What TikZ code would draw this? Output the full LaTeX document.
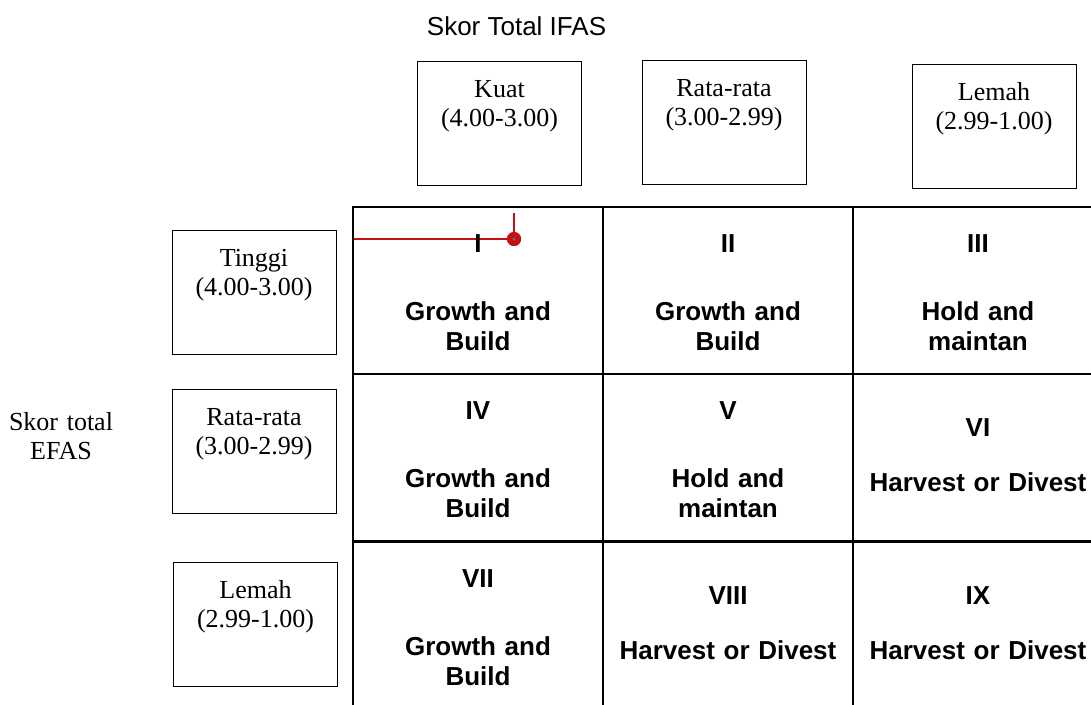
\documentclass[tikz,border=0pt]{standalone}
\usepackage{fontspec}
\setmainfont{Liberation Serif}
\setsansfont{Liberation Sans}
\definecolor{pinred}{RGB}{196,16,16}
\definecolor{pindot}{RGB}{90,110,160}

\begin{document}
\begin{tikzpicture}[x=0.75pt,y=-0.75pt,
  catbox/.style={draw,line width=0.75pt,inner sep=0pt,text width=123pt,align=center,
    font=\fontsize{19.5}{22}\selectfont,text height=27pt,text depth=66pt},
  cell/.style={draw,line width=1.5pt,inner sep=0pt,text width=187.5pt,align=center,
    font=\sffamily\bfseries\fontsize{19.5}{22.5}\selectfont,text height=33.75pt,text depth=91.5pt},
  cellone/.style={cell,text height=46.5pt,text depth=78.75pt},
  redline/.style={draw=pinred,line width=1.2pt}]
  \clip (0,0) rectangle (1091,704);
  \node[font=\sffamily\fontsize{19.5}{22}\selectfont,anchor=base] (ifas) at (516.5,35) {Skor Total IFAS};
  \node[font=\fontsize{19.5}{22}\selectfont,text width=90pt,align=center,anchor=base,inner sep=0pt] (efas) at (61,430) {Skor total\\EFAS};

  % IFAS
  \node[catbox] (kuat) at (499.5,123) {Kuat\\(4.00-3.00)};
  \node[catbox] (ratai) at (724,122) {Rata-rata\\(3.00-2.99)};
  \node[catbox] (lemahi) at (994,126) {Lemah\\(2.99-1.00)};
  % EFAS
  \node[catbox] (tinggi) at (254,292) {Tinggi\\(4.00-3.00)};
  \node[catbox] (ratae) at (254,451) {Rata-rata\\(3.00-2.99)};
  \node[catbox] (lemahe) at (255.5,624) {Lemah\\(2.99-1.00)};

  % marker
  \coordinate (mstart) at (353,239);
  \coordinate (mtop) at (514,213);
  \node[circle,fill=pinred,minimum size=10.5pt,inner sep=0pt] (pin) at (514,239) {};
  \draw[redline] (mstart) -- (pin.center);
  \draw[redline] (pin.center) -- (mtop);
  \node[circle,fill=pinred,minimum size=10.5pt,inner sep=0pt] (pinhead) at (pin) {};
  \node[circle,fill=pindot,minimum size=2.5pt,inner sep=0pt] (pindot) at (pin) {};

  % matrix cells
  \node[cell] (c11) at (478,290.5) {I\\[28.5pt]Growth and\\Build};
  \node[cell] (c12) at (728,290.5) {II\\[28.5pt]Growth and\\Build};
  \node[cell] (c13) at (978,290.5) {III\\[28.5pt]Hold and\\maintan};
  \node[cell] (c21) at (478,457.5) {IV\\[28.5pt]Growth and\\Build};
  \node[cell] (c22) at (728,457.5) {V\\[28.5pt]Hold and\\maintan};
  \node[cellone] (c23) at (978,457.5) {VI\\[18.75pt]Harvest or Divest};
  \node[cell] (c31) at (478,625.5) {VII\\[28.5pt]Growth and\\Build};
  \node[cellone] (c32) at (728,625.5) {VIII\\[18.75pt]Harvest or Divest};
  \node[cellone] (c33) at (978,625.5) {IX\\[18.75pt]Harvest or Divest};
\end{tikzpicture}
\end{document}
